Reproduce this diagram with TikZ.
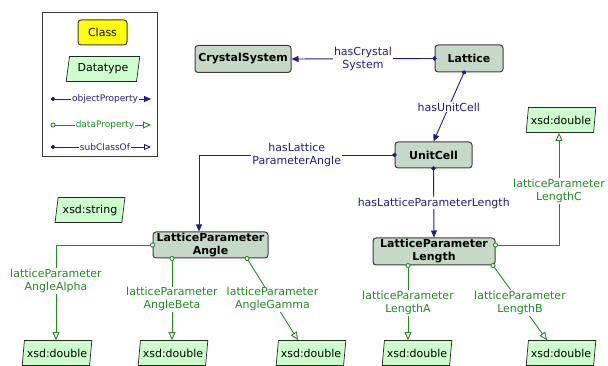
\documentclass[tikz,border=0pt]{standalone}
\usepackage{fontspec}
\setmainfont{DejaVu Sans}
\usetikzlibrary{arrows.meta,shapes.geometric}
\definecolor{objblue}{RGB}{30,30,140}
\definecolor{datgreen}{RGB}{30,140,30}
\definecolor{clsfill}{RGB}{198,216,198}
\definecolor{clsline}{RGB}{60,60,60}
\definecolor{dtfill}{RGB}{204,255,204}
\definecolor{legyellow}{RGB}{255,255,0}

\begin{document}
\begin{tikzpicture}[x=1pt,y=-1pt,
  every node/.style={font=\fontsize{11}{13}\selectfont},
  cls/.style={draw=clsline, fill=clsfill, rounded corners=3pt, line width=1pt,
    font=\bfseries\fontsize{11}{13}\selectfont, align=center, inner sep=0pt},
  dtype/.style={trapezium, trapezium left angle=76, trapezium right angle=104,
    trapezium stretches=true, draw=black!85, fill=dtfill, line width=0.7pt,
    inner sep=0pt, minimum width=70pt, minimum height=25pt},
  lbl/.style={fill=white, inner sep=1pt, align=center},
  small/.style={font=\fontsize{9}{11}\selectfont},
  obj/.style={objblue, line width=0.9pt,
    {Circle[length=4.5pt]}-{Triangle[length=7pt,width=6pt]}, shorten <=-2.25pt},
  sub/.style={objblue, line width=0.9pt,
    {Circle[length=4.5pt]}-{Triangle[open,fill=white,length=7pt,width=6pt]}, shorten <=-2.25pt},
  dat/.style={datgreen, line width=0.9pt,
    {Circle[open,fill=white,length=5pt]}-{Triangle[open,fill=white,length=8pt,width=7pt]},
    shorten <=-2.5pt},
  ]
\useasboundingbox (0,0) rectangle (608,366);

% legend
\node[draw=clsline, line width=0.8pt, minimum width=115pt, minimum height=144pt, inner sep=0pt]
  (legend) at (99.5,84) {};
\node[cls, fill=legyellow, minimum width=49pt, minimum height=25pt,
  font=\fontsize{11}{13}\selectfont] (lcls) at (102.5,32.5) {Class};
\node[dtype, minimum width=74pt] (ldt) at (103,69) {Datatype};
\coordinate (oa) at (53,99);  \coordinate (ob) at (151,99);
\coordinate (da) at (53,125); \coordinate (db) at (151,125);
\coordinate (sa) at (53,147); \coordinate (sb) at (151,147);
\draw[obj] (oa) -- node[lbl, small, pos=0.53] {objectProperty} (ob);
\draw[dat] (da) -- node[lbl, small, pos=0.53] {dataProperty} (db);
\draw[sub] (sa) -- node[lbl, small, pos=0.53] {subClassOf} (sb);

% classes
\node[cls, minimum width=96pt, minimum height=27pt] (cs) at (243,59) {CrystalSystem};
\node[cls, minimum width=68pt, minimum height=27pt] (lat) at (469,58.5) {Lattice};
\node[cls, minimum width=77pt, minimum height=26pt] (uc) at (433.5,155) {UnitCell};
\node[cls, minimum width=115pt, minimum height=26pt] (lpa) at (210.5,245) {LatticeParameter\\Angle};
\node[cls, minimum width=122pt, minimum height=27pt] (lpl) at (434,251.5) {LatticeParameter\\Length};

% datatypes
\node[dtype] (ds) at (90,210) {xsd:string};
\node[dtype] (dc) at (561,120) {xsd:double};
\node[dtype] (d1) at (57,353) {xsd:double};
\node[dtype] (d2) at (173,353) {xsd:double};
\node[dtype] (d3) at (311,353) {xsd:double};
\node[dtype] (d4) at (417,353) {xsd:double};
\node[dtype] (d5) at (561,353) {xsd:double};

% object properties
\draw[obj] (lat.west) -- node[lbl] {hasCrystal\\System} (cs.east);
\draw[obj] ([xshift=-5pt]lat.south) -- node[lbl] {hasUnitCell} (uc.north);
\draw[obj] (uc.west) -| node[lbl, pos=0.25] {hasLattice\\ParameterAngle} ([xshift=-11.5pt]lpa.north);
\draw[obj] (uc.south) -- node[lbl] {hasLatticeParameterLength} (lpl.north);

% data properties
\draw[dat] (lpa.west) -| node[lbl, pos=0.69] {latticeParameter\\AngleAlpha} (d1.north -| 56,0);
\draw[dat] (lpa.south -| 172,0) -- node[lbl] {latticeParameter\\AngleBeta} (d2.north -| 172,0);
\draw[dat] (lpa.south -| 247,0) -- node[lbl] {latticeParameter\\AngleGamma} (d3.north -| 298,0);
\draw[dat] (lpl.south -| 408,0) -- node[lbl] {latticeParameter\\LengthA} (d4.north -| 408,0);
\draw[dat] (lpl.south -| 493,0) -- node[lbl] {latticeParameter\\LengthB} (d5.north -| 547,0);
\draw[dat] (lpl.east |- 0,245) -| node[lbl, pos=0.74] {latticeParameter\\LengthC} (dc.south -| 559,0);
\end{tikzpicture}
\end{document}
